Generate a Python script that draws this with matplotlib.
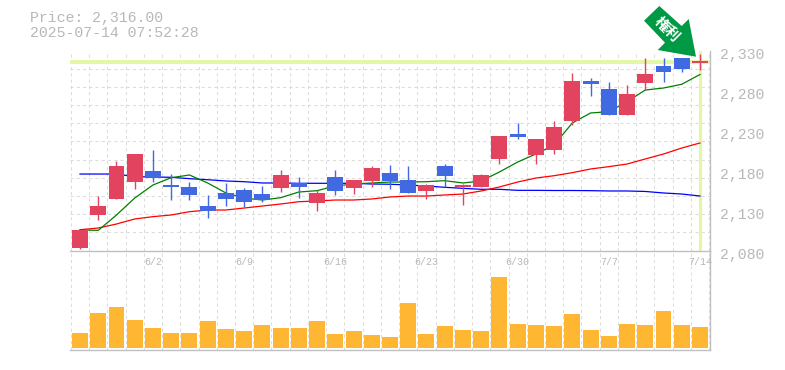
import numpy as np
import matplotlib
matplotlib.use("Agg")
import matplotlib.pyplot as plt
from matplotlib.patches import Polygon
from matplotlib.transforms import ScaledTranslation

W, H = 785, 370

# one entry per trading day, body top / body bottom / high / low
BODY_TOP = [2105.6, 2135.6, 2185.6, 2200.6, 2179.4, 2162, 2159.4, 2135.6, 2151.9, 2155.6, 2150.6, 2174.4,
            2164.4, 2151.9, 2171.9, 2168, 2183, 2176.9, 2168, 2162, 2185.6, 2162, 2174.4, 2223,
            2225.6, 2219.4, 2234.4, 2291.9, 2291.9, 2282, 2275.6, 2300.6, 2310.6, 2320.6, 2317]
BODY_BOTTOM = [2083.5, 2124.4, 2144.4, 2165.6, 2171, 2159.4, 2149.4, 2129.4, 2144.4, 2140.6, 2143, 2158,
               2159.4, 2139.4, 2154.4, 2158, 2166.9, 2166.9, 2151.9, 2154.4, 2173, 2159.4, 2159.4, 2194.4,
               2221.9, 2199.4, 2205.6, 2241.9, 2288, 2249.4, 2249.4, 2289.4, 2303, 2307, 2314]
HIGH = [2105.6, 2148.5, 2192, 2200.6, 2205.6, 2175.6, 2165.6, 2149.4, 2164.4, 2158, 2160.6, 2180.6,
        2171.9, 2155.6, 2180.6, 2168, 2185.6, 2186.9, 2185.6, 2163, 2188, 2163, 2175.6, 2223,
        2239.4, 2219.4, 2241.9, 2301.9, 2295.6, 2290.6, 2286.9, 2320.6, 2320.6, 2320.6, 2325.6]
LOW = [2081.9, 2118, 2144.4, 2157, 2165.6, 2143, 2143, 2120.6, 2135.6, 2134.4, 2140.6, 2153,
       2145.6, 2129.4, 2149.4, 2150.6, 2159.4, 2156.9, 2151.9, 2144.4, 2159.4, 2137, 2159.4, 2188,
       2219.4, 2188, 2200.6, 2236.9, 2273, 2249.4, 2249.4, 2280.6, 2290.6, 2303, 2305.6]
IS_UP = [1, 1, 1, 1, 0, 0, 0, 0, 0, 0, 0, 1, 0, 1, 0, 1, 1, 0, 0, 1, 0, 1, 1, 1,
         0, 1, 1, 1, 0, 0, 1, 1, 0, 0, 1]

MA_SHORT = [2105.6, 2105.2, 2124.4, 2145.6, 2161.9, 2171, 2174.4, 2164.4, 2151.9, 2145.6, 2143.1, 2146,
            2153.1, 2154.8, 2160.6, 2163.1, 2164.4, 2165.6, 2165.6, 2166, 2167.3, 2164.4, 2166.9, 2178.1,
            2190.6, 2200.6, 2211.9, 2239.4, 2251.9, 2253.5, 2266, 2280.6, 2283.1, 2287.8, 2300]
MA_MID = [2106, 2108.1, 2113.1, 2119.4, 2122.3, 2124.4, 2128.5, 2130.6, 2130.6, 2133.1, 2135.6, 2138.1,
          2141, 2141.9, 2143.1, 2143.1, 2144.4, 2146.9, 2148.1, 2148.1, 2149.4, 2150.6, 2154.4, 2159.4,
          2165.6, 2170.6, 2173.5, 2177.3, 2181.9, 2184.8, 2188.1, 2194.4, 2200.6, 2208.1, 2214.4]
MA_LONG = [2175.6, 2175.6, 2175.6, 2172.3, 2171.9, 2171.5, 2169.8, 2168.5, 2166.9, 2166, 2164.4, 2164.4,
           2164, 2164, 2164, 2164, 2163.1, 2162.8, 2161.9, 2160.6, 2159, 2157.7, 2156.5, 2156.5,
           2155.2, 2155.2, 2155, 2155, 2154.8, 2154.4, 2154.4, 2153.8, 2151.9, 2150.6, 2148.1]

VOLUME = [45, 105, 123, 84, 60, 45, 45, 81, 57, 51, 69, 60, 60, 81, 42, 51, 39, 33, 135, 42, 66, 54, 51, 213,
          72, 69, 66, 102, 54, 36, 72, 69, 111, 69, 63]

DATE_POS = [4, 9, 14, 19, 24, 29, 34]
DATE_LABELS = ["6/2", "6/9", "6/16", "6/23", "6/30", "7/7", "7/14"]
PRICE_TICKS = [2080, 2130, 2180, 2230, 2280, 2330]
PRICE_LABELS = ["2,080", "2,130", "2,180", "2,230", "2,280", "2,330"]
CURRENT_PRICE = 2316

RED = "#e2435f"
BLUE = "#4169e1"
GRID = "#dcdcdc"
FRAME = "#c0c0c0"
TEXT = "#b8b8b8"
MARK = "#e4f6a8"
ORANGE = "#ffb733"
GREEN = "#009944"

plt.rcParams["font.family"] = ["Liberation Mono", "DejaVu Sans"]


def px_axes(fig, left, top, right, bottom):
    return fig.add_axes([left / W, 1 - bottom / H, (right - left) / W, (bottom - top) / H])


def style_axes(ax):
    for side in ("top", "left"):
        ax.spines[side].set_visible(False)
    for side in ("bottom", "right"):
        ax.spines[side].set_color(FRAME)
        ax.spines[side].set_linewidth(1.0)
    ax.set_xlim(-0.55, 34.55)
    ax.set_xticks(np.arange(36) - 0.5, minor=True)
    ax.tick_params(which="both", length=0)
    ax.grid(True, which="minor", axis="x", color=GRID, linewidth=0.75, linestyle=(0, (3, 3)))
    ax.set_axisbelow(True)
    ax.patch.set_alpha(0)


def draw_price(ax):
    days = np.arange(len(BODY_TOP))
    top = np.array(BODY_TOP)
    bottom = np.array(BODY_BOTTOM)
    colors = [RED if up else BLUE for up in IS_UP]

    ax.axhline(CURRENT_PRICE, color=MARK, linewidth=2.9, zorder=1)
    ax.axvline(days[-1], color=MARK, linewidth=2.3, zorder=1)

    # moving averages run behind the candles
    ax.plot(days, MA_LONG, color="#0000ff", linewidth=0.9, zorder=2)
    ax.plot(days, MA_MID, color="#ff0000", linewidth=0.9, zorder=2)
    ax.plot(days, MA_SHORT, color="#008000", linewidth=0.9, zorder=2)

    ax.vlines(days, LOW, HIGH, colors=colors, linewidth=1.0, zorder=3)
    ax.bar(days, top - bottom, bottom=bottom, width=0.877, color=colors, linewidth=0, zorder=4)

    ax.set_ylim(2080, 2330)
    ax.set_yticks(np.linspace(2080, 2330, 12), minor=True)
    ax.grid(True, which="minor", axis="y", color=GRID, linewidth=0.75, linestyle=(0, (3, 3)))
    ax.yaxis.tick_right()
    ax.set_yticks(PRICE_TICKS, PRICE_LABELS)
    ax.tick_params(axis="y", which="major", labelsize=10.7, labelcolor=TEXT, pad=7)
    shift = ScaledTranslation(0, -3 / 100, ax.figure.dpi_scale_trans)
    for label in ax.get_yticklabels():
        label.set_transform(label.get_transform() + shift)

    ax.set_xticks(DATE_POS, DATE_LABELS)
    ax.tick_params(axis="x", which="major", labelsize=7.2, labelcolor=TEXT, pad=5)


def draw_volume(ax):
    days = np.arange(len(VOLUME))
    ax.bar(days, VOLUME, width=0.877, color=ORANGE, linewidth=0, zorder=3)
    ax.set_ylim(-6, 292.5)
    ax.set_yticks([])
    ax.set_xticks([])


def draw_arrow(fig):
    outline = [(659.3, 6), (644, 20.7), (665, 42.7), (657.7, 50), (696, 56.7), (688.7, 19), (681.7, 26)]
    points = [(x / W, 1 - y / H) for x, y in outline]
    fig.add_artist(Polygon(points, closed=True, transform=fig.transFigure, facecolor=GREEN,
                           edgecolor="none", zorder=10))
    fig.text(667 / W, 1 - 29 / H, "権利", color="white", fontsize=10.5, rotation=-45, ha="center", va="center",
             rotation_mode="anchor", family=["Noto Sans CJK JP", "DejaVu Sans"], weight="bold", zorder=11)


def main():
    fig = plt.figure(figsize=(W / 100, H / 100), dpi=100, facecolor="white")

    vol_ax = px_axes(fig, 70, 250.5, 710, 350)
    style_axes(vol_ax)
    draw_volume(vol_ax)

    price_ax = px_axes(fig, 70, 50.5, 710, 250.5)
    style_axes(price_ax)
    draw_price(price_ax)

    fig.text(30 / W, 1 - 18 / H, "Price: 2,316.00", color=TEXT, fontsize=10.7, va="center")
    fig.text(30 / W, 1 - 33 / H, "2025-07-14 07:52:28", color=TEXT, fontsize=10.7, va="center")
    draw_arrow(fig)

    fig.savefig("out.png", dpi=100)


if __name__ == '__main__':
    main()
